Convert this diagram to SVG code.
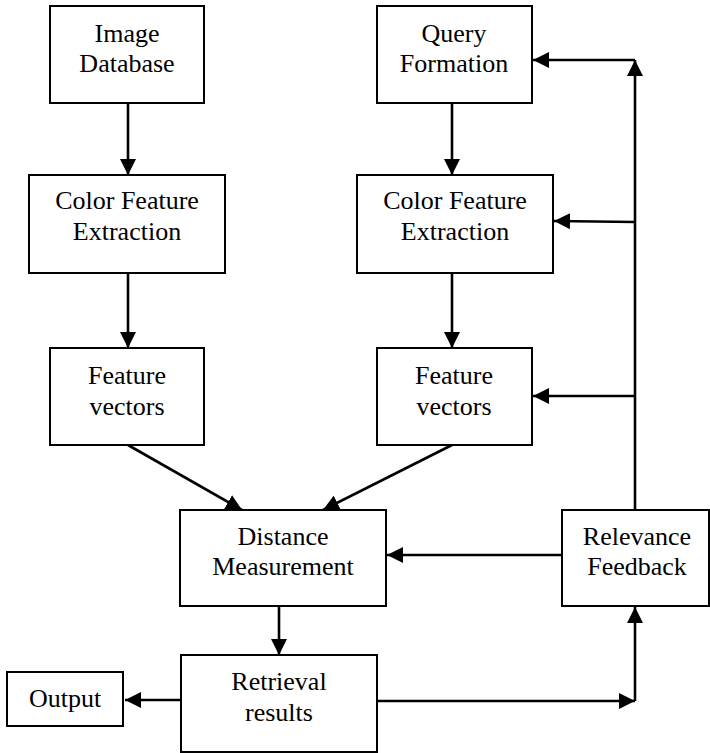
<svg xmlns="http://www.w3.org/2000/svg" width="710" height="753" viewBox="0 0 710 753">
<style>
.box{fill:#fff;stroke:#000;stroke-width:2}
.t{font-family:"Liberation Serif","Times New Roman",serif;font-size:26px;fill:#000;text-anchor:middle}
.c{fill:none;stroke:#000;stroke-width:2.6}
</style>
<defs>
<marker id="ah" markerUnits="userSpaceOnUse" markerWidth="16" markerHeight="16" viewBox="0 0 16 16" refX="16" refY="8" orient="auto">
<path d="M0,0 L16,8 L0,16 Z" fill="#000"/>
</marker>
</defs>
<rect width="710" height="753" fill="#fff"/>
<g id="connectors">
<line class="c" x1="128" y1="103" x2="128" y2="175" marker-end="url(#ah)"/>
<line class="c" x1="128" y1="273" x2="128" y2="348" marker-end="url(#ah)"/>
<line class="c" x1="452" y1="103" x2="452" y2="175" marker-end="url(#ah)"/>
<line class="c" x1="452" y1="273" x2="452" y2="348" marker-end="url(#ah)"/>
<line class="c" x1="128" y1="445" x2="242" y2="510" marker-end="url(#ah)"/>
<line class="c" x1="452" y1="445" x2="323" y2="510" marker-end="url(#ah)"/>
<line class="c" x1="279" y1="606" x2="279" y2="655" marker-end="url(#ah)"/>
<line class="c" x1="181" y1="700" x2="125" y2="700" marker-end="url(#ah)"/>
<line class="c" x1="377" y1="701" x2="635" y2="701" marker-end="url(#ah)"/>
<line class="c" x1="635" y1="701" x2="635" y2="607" marker-end="url(#ah)"/>
<line class="c" x1="562" y1="555" x2="387" y2="555" marker-end="url(#ah)"/>
<line class="c" x1="635" y1="510" x2="635" y2="60" marker-end="url(#ah)"/>
<line class="c" x1="635" y1="60" x2="533" y2="60" marker-end="url(#ah)"/>
<line class="c" x1="635" y1="222" x2="554" y2="221" marker-end="url(#ah)"/>
<line class="c" x1="635" y1="396" x2="533" y2="396" marker-end="url(#ah)"/>
</g>
<g id="image-database">
<rect class="box" x="50" y="6" width="154" height="97"/>
<text class="t" x="127" y="42">Image</text>
<text class="t" x="127" y="72">Database</text>
</g>
<g id="query-formation">
<rect class="box" x="377" y="6" width="155" height="97"/>
<text class="t" x="454" y="42">Query</text>
<text class="t" x="454" y="72">Formation</text>
</g>
<g id="cfe-left">
<rect class="box" x="29" y="175" width="196" height="98"/>
<text class="t" x="127" y="209">Color Feature</text>
<text class="t" x="127" y="240">Extraction</text>
</g>
<g id="cfe-right">
<rect class="box" x="357" y="175" width="196" height="98"/>
<text class="t" x="455" y="209">Color Feature</text>
<text class="t" x="455" y="240">Extraction</text>
</g>
<g id="fv-left">
<rect class="box" x="50" y="348" width="154" height="97"/>
<text class="t" x="127" y="384">Feature</text>
<text class="t" x="127" y="415">vectors</text>
</g>
<g id="fv-right">
<rect class="box" x="377" y="348" width="155" height="97"/>
<text class="t" x="454" y="384">Feature</text>
<text class="t" x="454" y="415">vectors</text>
</g>
<g id="distance-measurement">
<rect class="box" x="180" y="510" width="206" height="96"/>
<text class="t" x="283" y="545">Distance</text>
<text class="t" x="283" y="575">Measurement</text>
</g>
<g id="relevance-feedback">
<rect class="box" x="562" y="510" width="147" height="96"/>
<text class="t" x="637" y="545">Relevance</text>
<text class="t" x="637" y="575">Feedback</text>
</g>
<g id="retrieval-results">
<rect class="box" x="181" y="655" width="196" height="97"/>
<text class="t" x="279" y="690">Retrieval</text>
<text class="t" x="279" y="721">results</text>
</g>
<g id="output">
<rect class="box" x="7" y="672" width="116" height="54"/>
<text class="t" x="65" y="707">Output</text>
</g>
</svg>
